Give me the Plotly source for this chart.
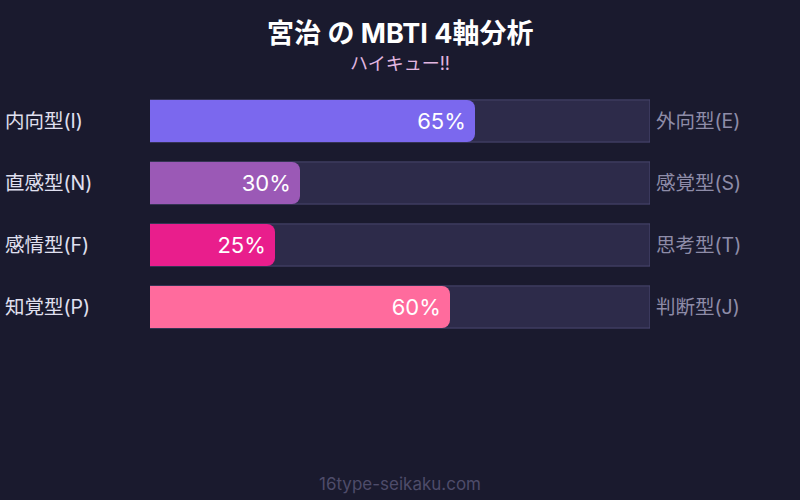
import plotly.graph_objects as go

# MBTI 4-axis data
left_labels = ['内向型(I)', '直感型(N)', '感情型(F)', '知覚型(P)']
right_labels = ['外向型(E)', '感覚型(S)', '思考型(T)', '判断型(J)']
percent = [65, 30, 25, 60]
bar_colors = ['#7b68ee', '#9b59b6', '#e91e8c', '#ff6b9d']

title_text = '宮治 の MBTI 4軸分析'
subtitle_text = 'ハイキュー!!'
footer_text = '16type-seikaku.com'

FONT = 'Inter, Noto Sans CJK JP, sans-serif'
rows = list(range(len(percent)))

fig = go.Figure()

# background track
fig.add_trace(go.Bar(
    y=rows,
    x=[100] * len(rows),
    orientation='h',
    width=0.68,
    marker=dict(color='#2d2b4a', line=dict(color='#4a4870', width=1)),
    hoverinfo='skip',
    showlegend=False,
))

# filled part (rounded), on an overlaying axis so it sits on top of the track
fig.add_trace(go.Bar(
    y=rows,
    x=percent,
    orientation='h',
    width=0.68,
    yaxis='y2',
    marker=dict(color=bar_colors, line=dict(width=0), cornerradius=8),
    text=['{}%&nbsp;'.format(p) for p in percent],
    textposition='inside',
    insidetextanchor='end',
    textfont=dict(family=FONT, size=22, color='#ffffff'),
    showlegend=False,
))

annotations = []
for i in rows:
    annotations.append(dict(
        x=0, xref='paper', xshift=-147, y=i, yref='y',
        text=left_labels[i], showarrow=False, xanchor='left',
        font=dict(family=FONT, size=19.5, color='#e0e0f0'),
    ))
    annotations.append(dict(
        x=1, xref='paper', xshift=4, y=i, yref='y',
        text=right_labels[i], showarrow=False, xanchor='left',
        font=dict(family=FONT, size=19.5, color='#8e8ca8'),
    ))

annotations.append(dict(
    x=0.5, xref='paper', y=33, yref='paper', yanchor='middle',
    text='<b>' + title_text + '</b>', showarrow=False,
    font=dict(family=FONT, size=27, color='#ffffff'),
))
annotations.append(dict(
    x=0.5, xref='paper', y=63, yref='paper', yanchor='middle',
    text=subtitle_text, showarrow=False,
    font=dict(family=FONT, size=18, color='#e2b6e0'),
))
annotations.append(dict(
    x=0.5, xref='paper', y=484, yref='paper', yanchor='middle',
    text=footer_text, showarrow=False,
    font=dict(family=FONT, size=17, color='#4e4c6a'),
))

# convert pixel-based y for header/footer into paper coords
plot_top, plot_bottom = 90, 338
for a in annotations[-3:]:
    a['y'] = (plot_bottom - a['y']) / (plot_bottom - plot_top)

fig.update_layout(
    width=800,
    height=500,
    paper_bgcolor='#1a1a2e',
    plot_bgcolor='#1a1a2e',
    margin=dict(l=150, r=150, t=plot_top, b=500 - plot_bottom),
    xaxis=dict(range=[0, 100], visible=False, fixedrange=True),
    yaxis=dict(range=[3.5, -0.5], visible=False, fixedrange=True),
    yaxis2=dict(range=[3.5, -0.5], visible=False, fixedrange=True,
                overlaying='y', matches='y'),
    annotations=annotations,
    font=dict(family=FONT),
)

fig.write_html('out.html', config={'displayModeBar': False},
               post_script="document.body.style.margin='0';document.body.style.background='#1a1a2e';")
